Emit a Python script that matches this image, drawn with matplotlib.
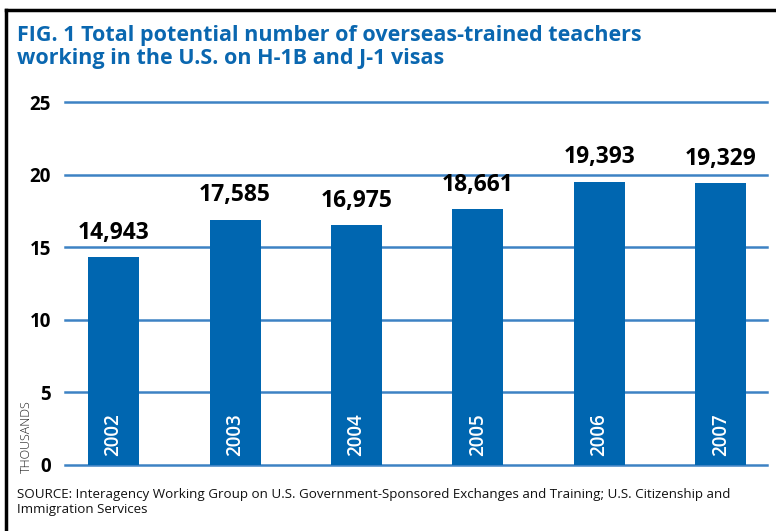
import matplotlib
matplotlib.use("Agg")
import matplotlib.pyplot as plt
from matplotlib.lines import Line2D

# bar heights as drawn (thousands) and the printed labels
years = ["2002", "2003", "2004", "2005", "2006", "2007"]
heights = [14.3, 16.9, 16.5, 17.6, 19.5, 19.4]
value_labels = ["14,943", "17,585", "16,975", "18,661", "19,393", "19,329"]
yticks = [0, 5, 10, 15, 20, 25]

title = ("FIG. 1 Total potential number of overseas-trained teachers\n"
         "working in the U.S. on H-1B and J-1 visas")
source = ("SOURCE: Interagency Working Group on U.S. Government-Sponsored Exchanges and Training; "
          "U.S. Citizenship and\nImmigration Services")

BLUE = "#0066b0"
GRID = "#3d82c4"

plt.rcParams["font.family"] = ["Open Sans", "DejaVu Sans"]

fig = plt.figure(figsize=(7.76, 5.31), dpi=100)
ax = fig.add_axes([65 / 776, 66 / 531, 702 / 776, 363 / 531])

x = list(range(len(years)))
ax.bar(x, heights, width=0.42, color=BLUE, zorder=3)
for t in yticks:
    ax.axhline(t, color=GRID, lw=1.8, zorder=1, clip_on=False)

for xi, h, lab, yr in zip(x, heights, value_labels, years):
    ax.annotate(lab, (xi, h), xytext=(0, 9), textcoords="offset points",
                ha="center", va="bottom", fontsize=16.5, fontweight="bold", color="black")
    ax.text(xi, 0.65, yr, rotation=90, ha="center", va="bottom", fontsize=13.5,
            fontweight="semibold", color="white", zorder=4)

ax.set_xlim(-0.4, 5.38)
ax.set_ylim(0, 25)
ax.set_yticks(yticks)
ax.set_yticklabels([str(t) for t in yticks], fontsize=13.5, fontweight="bold")
ax.tick_params(axis="y", length=0, pad=10)
ax.set_xticks([])
for s in ax.spines.values():
    s.set_visible(False)

fig.text(26 / 776, 1 - 473 / 531, "THOUSANDS", rotation=90, ha="center", va="bottom",
         fontsize=9, fontweight="light", color="#222222")

fig.text(17 / 776, 1 - 25 / 531, title, ha="left", va="top", fontsize=15.5,
         fontweight="bold", color="#0a67b0", linespacing=1.15)

fig.text(17 / 776, 1 - 488 / 531, source, ha="left", va="top", fontsize=9.6,
         color="#111111", linespacing=1.25)

# black frame on top and left
fig.add_artist(Line2D([6 / 776, 1], [1 - 10 / 531, 1 - 10 / 531], color="black", lw=2.5,
                      transform=fig.transFigure))
fig.add_artist(Line2D([6 / 776, 6 / 776], [0, 1 - 10 / 531], color="black", lw=2.5,
                      transform=fig.transFigure))

fig.savefig("out.png", dpi=100)
